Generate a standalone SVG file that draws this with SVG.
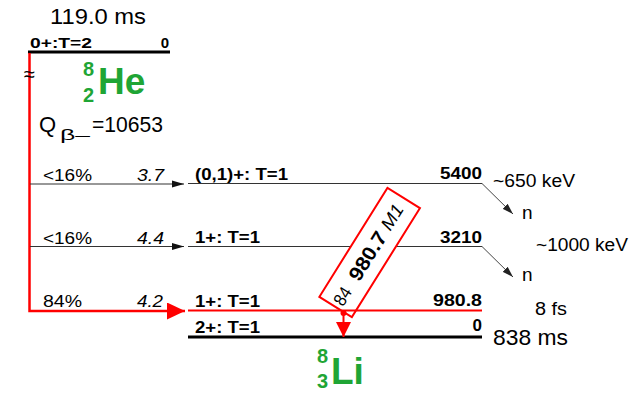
<svg xmlns="http://www.w3.org/2000/svg" width="637" height="398" viewBox="0 0 637 398">
<defs>
<style>
text{font-family:"Liberation Sans",Arial,Helvetica,sans-serif;fill:#000}
.b{font-weight:bold}
.i{font-style:italic}
.g{fill:#1fa535;font-weight:bold}
.lvl{stroke:#333;stroke-width:1.2;fill:none}
.tr{stroke:#333;stroke-width:1.2;fill:none;marker-end:url(#ah)}
.nt{stroke:#444;stroke-width:1;fill:none;marker-end:url(#ahn)}
.red{stroke:#ff0000;fill:none}
</style>
<marker id="ah" markerUnits="userSpaceOnUse" markerWidth="12" markerHeight="8" refX="12" refY="4" orient="auto"><path d="M0,0.5 L12,4 L0,7.5 z" fill="#111"/></marker>
<marker id="ahn" markerUnits="userSpaceOnUse" markerWidth="11" markerHeight="8" refX="11" refY="4" orient="auto"><path d="M0,0.5 L11,4 L0,7.5 z" fill="#222"/></marker>
<marker id="ahr" markerUnits="userSpaceOnUse" markerWidth="18" markerHeight="17" refX="18" refY="8.5" orient="auto"><path d="M0,0 L18,8.5 L0,17 z" fill="#ff0000"/></marker>
<marker id="ahg" markerUnits="userSpaceOnUse" markerWidth="15" markerHeight="15" refX="15" refY="7.5" orient="auto"><path d="M0,0 L15,7.5 L0,15 z" fill="#ff0000"/></marker>
</defs>
<rect width="637" height="398" fill="#fff"/>

<g id="he8-ground">
<text x="50" y="24" font-size="22" textLength="96" lengthAdjust="spacingAndGlyphs">119.0 ms</text>
<line x1="28" y1="52" x2="170" y2="52" stroke="#000" stroke-width="3"/>
<text class="b" x="30" y="47.5" font-size="15" textLength="62" lengthAdjust="spacingAndGlyphs">0+:T=2</text>
<text class="b" x="169" y="47.5" font-size="15" text-anchor="end">0</text>
</g>

<g id="he8-label">
<text class="g" x="83" y="76" font-size="20">8</text>
<text class="g" x="83" y="102" font-size="20">2</text>
<text class="g" x="98" y="94" font-size="37">He</text>
</g>

<g id="qvalue">
<text x="39" y="132" font-size="22">Q</text>
<text x="60" y="140" font-size="15" textLength="30" lengthAdjust="spacingAndGlyphs">β–</text>
<text x="92" y="132" font-size="22" textLength="71" lengthAdjust="spacingAndGlyphs">=10653</text>
</g>

<g id="level-5400">
<line class="lvl" x1="188" y1="183.5" x2="482" y2="183.5"/>
<text class="b" x="195" y="180" font-size="17" textLength="93" lengthAdjust="spacingAndGlyphs">(0,1)+: T=1</text>
<text class="b" x="482" y="179" font-size="17" text-anchor="end" textLength="42" lengthAdjust="spacingAndGlyphs">5400</text>
</g>

<g id="level-3210">
<line class="lvl" x1="188" y1="246.5" x2="482" y2="246.5"/>
<text class="b" x="195" y="243" font-size="17" textLength="65" lengthAdjust="spacingAndGlyphs">1+: T=1</text>
<text class="b" x="482" y="243" font-size="17" text-anchor="end" textLength="42" lengthAdjust="spacingAndGlyphs">3210</text>
</g>

<g id="gamma-box" transform="translate(369.65,252.5) rotate(-58)">
<rect x="-64.25" y="-19.15" width="128.5" height="38.3" fill="#fff" stroke="#ff0000" stroke-width="2"/>
<text x="-60.5" y="6.5" font-size="18" textLength="18" lengthAdjust="spacingAndGlyphs">84</text>
<text class="b" x="-31" y="7" font-size="20" textLength="54" lengthAdjust="spacingAndGlyphs">980.7</text>
<text class="i" x="28.5" y="6.5" font-size="18" textLength="27" lengthAdjust="spacingAndGlyphs">M1</text>
</g>

<g id="level-980">
<line x1="188" y1="310.5" x2="482" y2="310.5" stroke="#ff0000" stroke-width="2"/>
<text class="b" x="195" y="306.5" font-size="17" textLength="65" lengthAdjust="spacingAndGlyphs">1+: T=1</text>
<text class="b" x="482" y="306" font-size="17" text-anchor="end" textLength="49" lengthAdjust="spacingAndGlyphs">980.8</text>
<text x="535" y="315" font-size="18" textLength="32" lengthAdjust="spacingAndGlyphs">8 fs</text>
</g>

<g id="level-0">
<line x1="188" y1="337" x2="482" y2="337" stroke="#000" stroke-width="3"/>
<text class="b" x="195" y="333" font-size="17" textLength="65" lengthAdjust="spacingAndGlyphs">2+: T=1</text>
<text class="b" x="482" y="331" font-size="17" text-anchor="end">0</text>
<text x="493" y="345" font-size="22" textLength="75" lengthAdjust="spacingAndGlyphs">838 ms</text>
</g>

<g id="li8-label">
<text class="g" x="317" y="363" font-size="20">8</text>
<text class="g" x="317" y="388" font-size="20">3</text>
<text class="g" x="331" y="384" font-size="37">Li</text>
</g>

<g id="connectors">
<path class="red" d="M29.5,53 V311 H185" stroke-width="2.5" marker-end="url(#ahr)"/>
<line class="tr" x1="30" y1="184" x2="184" y2="184"/>
<line class="tr" x1="30" y1="246.5" x2="184" y2="246.5"/>
<line class="nt" x1="482" y1="183.5" x2="513" y2="214"/>
<line class="nt" x1="482" y1="246.5" x2="513" y2="277"/>
<line x1="343.5" y1="311" x2="343.5" y2="337" stroke="#ff0000" stroke-width="2" marker-end="url(#ahg)"/>
<circle cx="343.5" cy="313" r="3" fill="#ff0000"/>
</g>

<g id="transition-labels">
<text x="24" y="81" font-size="20">≈</text>
<text x="43" y="181" font-size="16" textLength="49" lengthAdjust="spacingAndGlyphs">&lt;16%</text>
<text class="i" x="137" y="181" font-size="16" textLength="27" lengthAdjust="spacingAndGlyphs">3.7</text>
<text x="43" y="243.5" font-size="16" textLength="49" lengthAdjust="spacingAndGlyphs">&lt;16%</text>
<text class="i" x="137" y="243.5" font-size="16" textLength="27" lengthAdjust="spacingAndGlyphs">4.4</text>
<text x="43" y="306.5" font-size="16" textLength="39" lengthAdjust="spacingAndGlyphs">84%</text>
<text class="i" x="137" y="306.5" font-size="16" textLength="26" lengthAdjust="spacingAndGlyphs">4.2</text>
</g>

<g id="neutron-labels">
<text x="493" y="187" font-size="18" textLength="82" lengthAdjust="spacingAndGlyphs">~650 keV</text>
<text x="522" y="219" font-size="19">n</text>
<text x="536" y="250.5" font-size="18" textLength="92" lengthAdjust="spacingAndGlyphs">~1000 keV</text>
<text x="522" y="281" font-size="19">n</text>
</g>
</svg>
